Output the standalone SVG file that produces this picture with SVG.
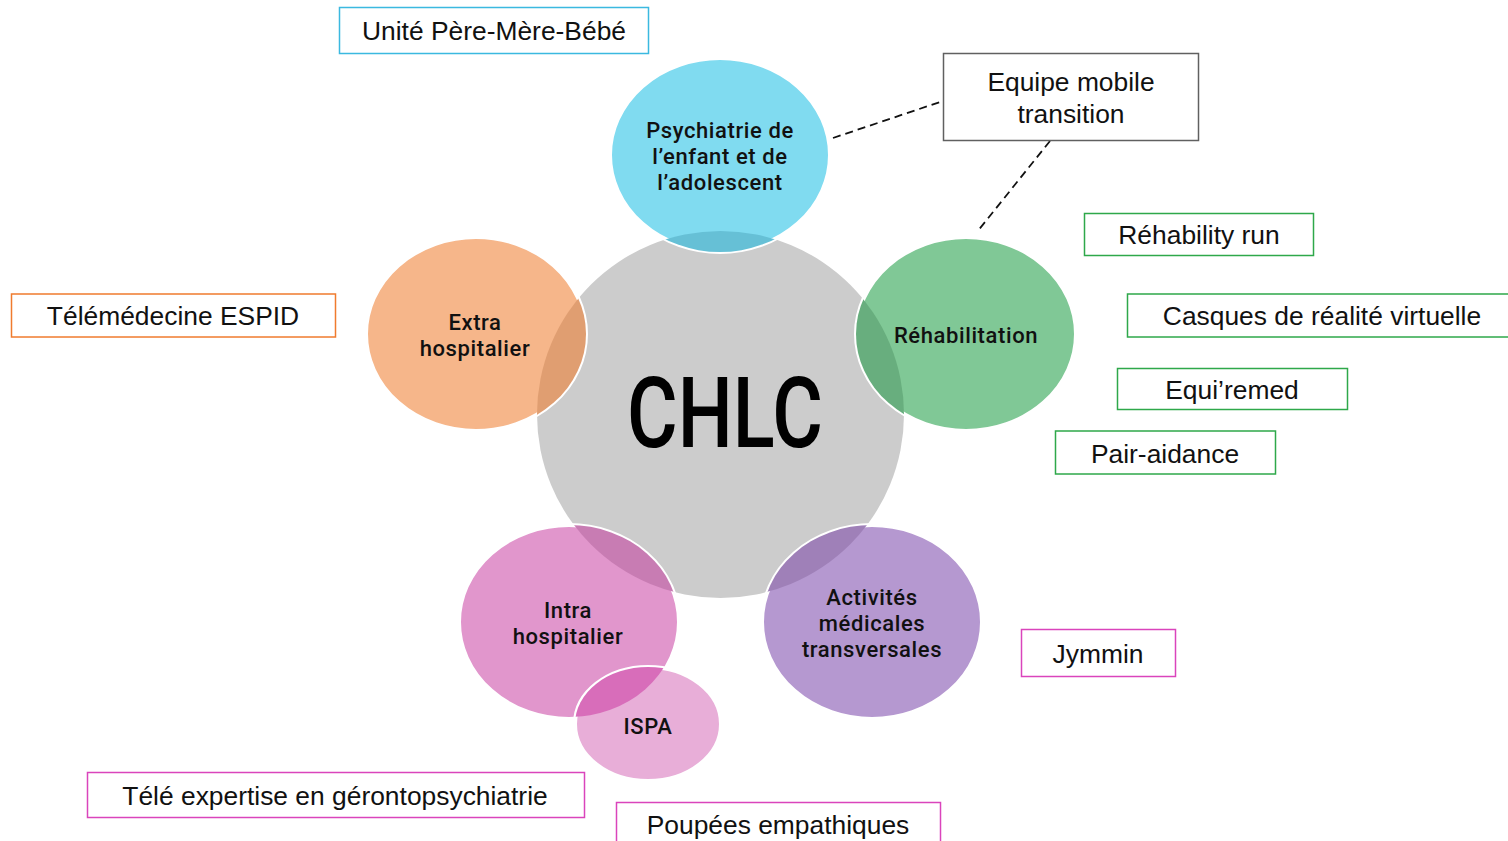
<svg xmlns="http://www.w3.org/2000/svg" width="1508" height="841" viewBox="0 0 1508 841">
<defs>
<style>
.lbl{font-family:Roboto,"DejaVu Sans",sans-serif;font-weight:500;font-size:22px;letter-spacing:0.6px;fill:#111;text-anchor:middle}
.box{fill:#fff;stroke-width:1.5}
.bt{font-family:"Liberation Sans",Arial,sans-serif;font-size:26.4px;fill:#111;text-anchor:middle}
.ring{stroke:#fff;stroke-width:4}
.dash{stroke:#111;stroke-width:1.8;stroke-dasharray:8 5;fill:none}
</style>
<clipPath id="cBlue"><ellipse cx="720" cy="155" rx="110" ry="97"/></clipPath>
<clipPath id="cOrange"><ellipse cx="476" cy="334" rx="110" ry="97"/></clipPath>
<clipPath id="cGreen"><ellipse cx="966" cy="334" rx="110" ry="97"/></clipPath>
<clipPath id="cPink"><ellipse cx="569" cy="622" rx="110" ry="97"/></clipPath>
<clipPath id="cPurple"><ellipse cx="872" cy="622" rx="110" ry="97"/></clipPath>
<clipPath id="cIspa"><ellipse cx="648" cy="724" rx="73" ry="57"/></clipPath>
</defs>

<g id="center">
<circle cx="720.5" cy="414.5" r="183.5" fill="#CCCCCC"/>
<text x="725" y="447" font-family="Roboto,'DejaVu Sans',sans-serif" font-weight="500" font-size="98" fill="#000" text-anchor="middle" textLength="196" lengthAdjust="spacingAndGlyphs">CHLC</text>
</g>

<g id="node-blue">
<ellipse class="ring" cx="720" cy="155" rx="110" ry="97" fill="#80DBF0"/>
<circle cx="720.5" cy="414.5" r="183.5" fill="#66C0D6" clip-path="url(#cBlue)"/>
<text class="lbl" x="720" y="138">Psychiatrie de</text>
<text class="lbl" x="720" y="164">l’enfant et de</text>
<text class="lbl" x="720" y="190">l’adolescent</text>
</g>

<g id="node-orange">
<ellipse class="ring" cx="476" cy="334" rx="110" ry="97" fill="#F6B68A"/>
<circle cx="720.5" cy="414.5" r="183.5" fill="#E09E71" clip-path="url(#cOrange)"/>
<text class="lbl" x="475" y="330">Extra</text>
<text class="lbl" x="475" y="356">hospitalier</text>
</g>

<g id="node-green">
<ellipse class="ring" cx="966" cy="334" rx="110" ry="97" fill="#80C896"/>
<circle cx="720.5" cy="414.5" r="183.5" fill="#68AE7E" clip-path="url(#cGreen)"/>
<text class="lbl" x="966" y="343">Réhabilitation</text>
</g>

<g id="node-pink">
<ellipse class="ring" cx="569" cy="622" rx="110" ry="97" fill="#E196CC"/>
<circle cx="720.5" cy="414.5" r="183.5" fill="#C87CB3" clip-path="url(#cPink)"/>
<text class="lbl" x="568" y="618">Intra</text>
<text class="lbl" x="568" y="644">hospitalier</text>
</g>

<g id="node-purple">
<ellipse class="ring" cx="872" cy="622" rx="110" ry="97" fill="#B598D0"/>
<circle cx="720.5" cy="414.5" r="183.5" fill="#9F80B8" clip-path="url(#cPurple)"/>
<text class="lbl" x="872" y="605">Activités</text>
<text class="lbl" x="872" y="631">médicales</text>
<text class="lbl" x="872" y="657">transversales</text>
</g>

<g id="node-ispa">
<ellipse class="ring" cx="648" cy="724" rx="73" ry="57" fill="#E8AED8"/>
<ellipse cx="569" cy="622" rx="108" ry="95" fill="#D86DBA" clip-path="url(#cIspa)"/>
<text class="lbl" x="648" y="734">ISPA</text>
</g>

<g id="connectors">
<line class="dash" x1="833" y1="138" x2="943" y2="101"/>
<line class="dash" x1="1050" y1="141" x2="977" y2="232"/>
</g>

<g id="box-upmb">
<rect class="box" x="339.5" y="7.5" width="309" height="46" stroke="#3BB9E0"/>
<text class="bt" x="494" y="40">Unité Père-Mère-Bébé</text>
</g>
<g id="box-equipe">
<rect class="box" x="943.5" y="53.5" width="255" height="87" stroke="#606060"/>
<text class="bt" x="1071" y="91">Equipe mobile</text>
<text class="bt" x="1071" y="123">transition</text>
</g>
<g id="box-rehab-run">
<rect class="box" x="1084.5" y="213.5" width="229" height="42" stroke="#2EA84A"/>
<text class="bt" x="1199" y="244">Réhability run</text>
</g>
<g id="box-casques">
<rect class="box" x="1127.5" y="294" width="390" height="43" stroke="#2EA84A"/>
<text class="bt" x="1322" y="325">Casques de réalité virtuelle</text>
</g>
<g id="box-equiremed">
<rect class="box" x="1117.5" y="368.5" width="230" height="41" stroke="#2EA84A"/>
<text class="bt" x="1232" y="399">Equi’remed</text>
</g>
<g id="box-pair">
<rect class="box" x="1055.5" y="431" width="220" height="43" stroke="#2EA84A"/>
<text class="bt" x="1165" y="463">Pair-aidance</text>
</g>
<g id="box-tele">
<rect class="box" x="11.5" y="294" width="324" height="43" stroke="#F07B2E"/>
<text class="bt" x="173" y="325">Télémédecine ESPID</text>
</g>
<g id="box-jymmin">
<rect class="box" x="1021.5" y="629.5" width="154" height="47" stroke="#DA44BC"/>
<text class="bt" x="1098" y="663">Jymmin</text>
</g>
<g id="box-geronto">
<rect class="box" x="87.5" y="772.5" width="497" height="45" stroke="#DA44BC"/>
<text class="bt" x="335" y="805">Télé expertise en gérontopsychiatrie</text>
</g>
<g id="box-poupees">
<rect class="box" x="616.5" y="802.5" width="324" height="50" stroke="#DA44BC"/>
<text class="bt" x="778" y="834">Poupées empathiques</text>
</g>
</svg>
